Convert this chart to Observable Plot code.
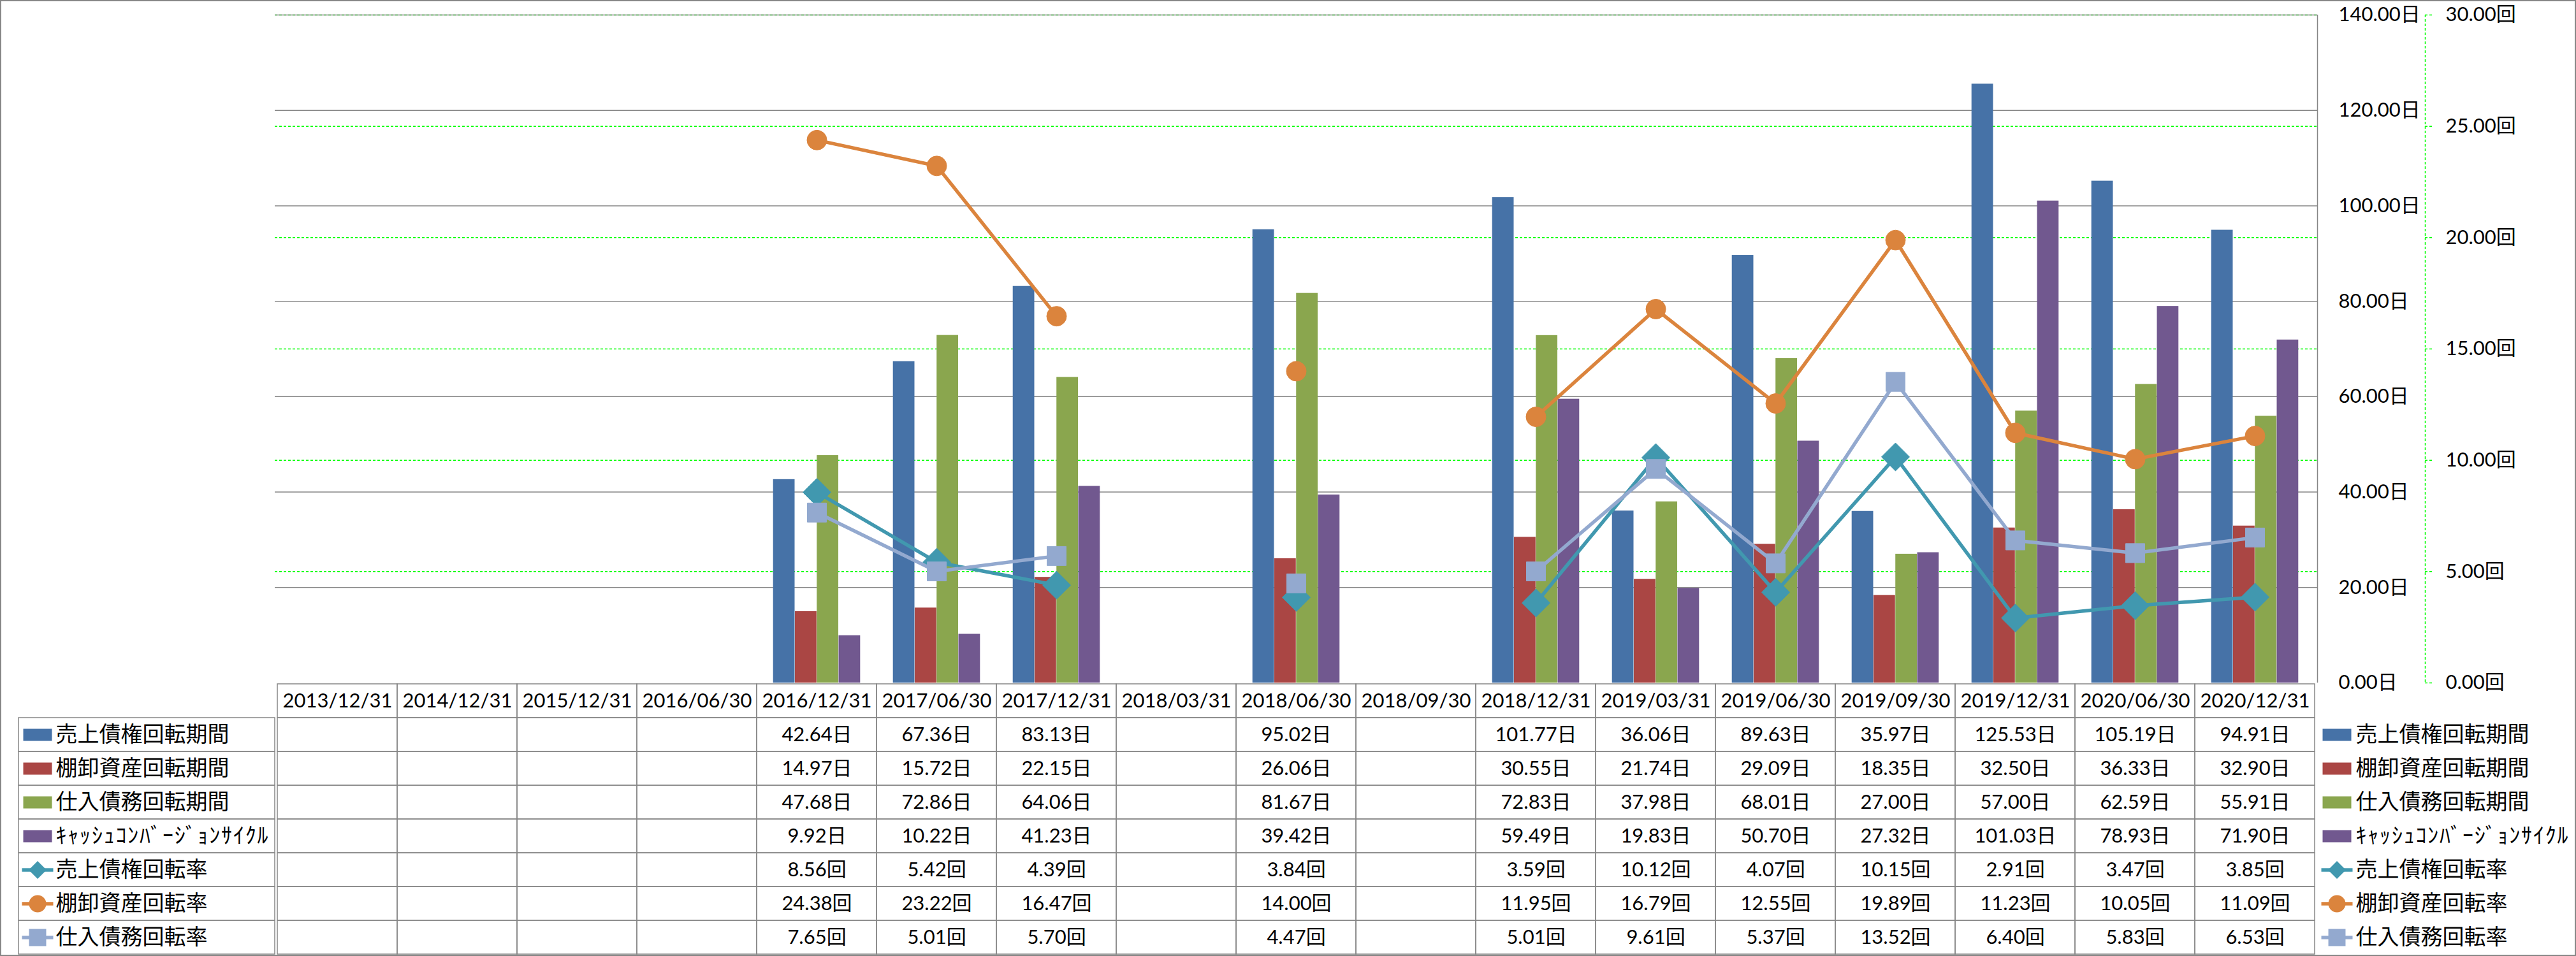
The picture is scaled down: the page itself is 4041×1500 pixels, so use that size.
<!DOCTYPE html>
<html>
<head>
<meta charset="utf-8">
<script src="https://cdn.jsdelivr.net/npm/d3@7"></script>
<script src="https://cdn.jsdelivr.net/npm/@observablehq/plot@0.6"></script>
<style>
html, body { margin: 0; padding: 0; background: #ffffff; color: #000; }
#chart { position: relative; width: 4041px; height: 1500px; overflow: hidden; background: #fff; }
#chart svg { position: absolute; }
#frame { position: absolute; left: 0; top: 0; width: 4041px; height: 1500px; box-sizing: border-box; border: 2px solid #868686; pointer-events: none; }
</style>
</head>
<body>
<div id="chart"></div>
<script>
// ---------------- DATA ----------------
const categories = ["2013/12/31","2014/12/31","2015/12/31","2016/06/30","2016/12/31","2017/06/30","2017/12/31","2018/03/31","2018/06/30","2018/09/30","2018/12/31","2019/03/31","2019/06/30","2019/09/30","2019/12/31","2020/06/30","2020/12/31"];

const barNames = ["売上債権回転期間", "棚卸資産回転期間", "仕入債務回転期間", "ｷｬｯｼｭｺﾝﾊﾞｰｼﾞｮﾝｻｲｸﾙ"];
const lineNames = ["売上債権回転率", "棚卸資産回転率", "仕入債務回転率"];

const receivableDays = [null,null,null,null,42.64,67.36,83.13,null,95.02,null,101.77,36.06,89.63,35.97,125.53,105.19,94.91];
const inventoryDays  = [null,null,null,null,14.97,15.72,22.15,null,26.06,null,30.55,21.74,29.09,18.35,32.50,36.33,32.90];
const payableDays    = [null,null,null,null,47.68,72.86,64.06,null,81.67,null,72.83,37.98,68.01,27.00,57.00,62.59,55.91];
const cccDays        = [null,null,null,null,9.92,10.22,41.23,null,39.42,null,59.49,19.83,50.70,27.32,101.03,78.93,71.90];

const receivableTurnover = [null,null,null,null,8.56,5.42,4.39,null,3.84,null,3.59,10.12,4.07,10.15,2.91,3.47,3.85];
const inventoryTurnover  = [null,null,null,null,24.38,23.22,16.47,null,14.00,null,11.95,16.79,12.55,19.89,11.23,10.05,11.09];
const payableTurnover    = [null,null,null,null,7.65,5.01,5.70,null,4.47,null,5.01,9.61,5.37,13.52,6.40,5.83,6.53];

const dayTicks = [0, 20, 40, 60, 80, 100, 120, 140];
const rateTicks = [0, 5, 10, 15, 20, 25, 30];
const dayUnit = "日";
const rateUnit = "回";

// ---------------- STYLE / LAYOUT ----------------
const W = 4041, H = 1500;
const plotL = 431, plotR = 3635, plotT = 23, plotB = 1071, tableB = 1499;
const greenX = 3804, greenTick = 12;
const gray = "#868686";
const green = "#00FF00";
const FONT = "Lato, 'Noto Sans CJK JP', sans-serif";
const barColors = ["#4672A7", "#AA4644", "#8AA64E", "#71588F"];
const lineColors = ["#4198AF", "#DB843D", "#93A9CF"];
const lineSymbols = ["diamond2", "circle", "square"];
const markerR = [19.8, 15.5, 16.9];
const legendMarkerR = [12.6, 13.5, 15.2];

const barSeries = [receivableDays, inventoryDays, payableDays, cccDays];
const lineSeries = [receivableTurnover, inventoryTurnover, payableTurnover];

const rows = categories.map((date, i) => {
  const r = {date};
  barSeries.forEach((s, k) => r["b" + k] = s[i] ?? NaN);
  lineSeries.forEach((s, k) => r["l" + k] = s[i] ?? NaN);
  return r;
});

const container = document.getElementById("chart");
function place(svg, left, top) {
  svg.style.left = left + "px";
  svg.style.top = top + "px";
  container.appendChild(svg);
  return svg;
}
const baseStyle = {fontFamily: FONT, fontSize: "31px", background: "transparent", overflow: "visible", position: "absolute"};

const xBand = {type: "band", domain: categories, padding: 0, axis: null};

// Layer A: green dashed gridlines (rate scale)
place(Plot.plot({
  width: W, height: plotB, marginTop: plotT, marginBottom: 0, marginLeft: plotL, marginRight: W - plotR,
  style: baseStyle,
  x: xBand,
  y: {domain: [0, 30], axis: null},
  marks: [
    Plot.ruleY(rateTicks.filter(d => d > 0), {stroke: green, strokeWidth: 1.5, strokeDasharray: "4,3"})
  ]
}), 0, 0);

// Layer B: gray gridlines, bars, day axis labels
const step = (plotR - plotL) / categories.length;
const barW = step / 5.5;
const gapHalf = (step - 4 * barW) / 2;
place(Plot.plot({
  width: W, height: plotB, marginTop: plotT, marginBottom: 0, marginLeft: plotL, marginRight: W - plotR,
  style: baseStyle,
  x: xBand,
  y: {domain: [0, 140]},
  marks: [
    Plot.ruleY(dayTicks.filter(d => d > 0), {stroke: gray, strokeWidth: 1.5}),
    ...barSeries.map((s, k) => Plot.barY(rows, {
      x: "date", y: "b" + k, fill: barColors[k],
      insetLeft: gapHalf + k * barW, insetRight: step - gapHalf - (k + 1) * barW
    })),
    Plot.axisY({anchor: "right", ticks: dayTicks, tickSize: 0, tickPadding: 33, label: null,
      tickFormat: d => d.toFixed(2) + dayUnit, fontSize: 31})
  ]
}), 0, 0);

// Day axis line
place(Plot.plot({
  width: W, height: plotB, marginTop: plotT, marginBottom: 0, marginLeft: plotR, marginRight: W - plotR - 1,
  style: baseStyle,
  x: {domain: [0, 1], axis: null},
  marks: [Plot.ruleX([0], {stroke: gray, strokeWidth: 1.5})]
}), 0, 0);

// Rate axis (green dashed line, ticks, labels)
place(Plot.plot({
  width: W, height: plotB, marginTop: plotT, marginBottom: 0, marginLeft: greenX, marginRight: W - greenX - greenTick,
  style: baseStyle,
  x: {domain: [0, 1], axis: null},
  y: {domain: [0, 30]},
  marks: [
    Plot.ruleX([0], {stroke: green, strokeWidth: 1.5, strokeDasharray: "4,3"}),
    Plot.ruleY(rateTicks, {stroke: green, strokeWidth: 1.5, strokeDasharray: "4,3"}),
    Plot.axisY({anchor: "right", ticks: rateTicks, tickSize: 0, tickPadding: 20, label: null,
      tickFormat: d => d.toFixed(2) + rateUnit, fontSize: 31})
  ]
}), 0, 0);

// Layer C: lines and markers (rate scale)
place(Plot.plot({
  width: W, height: plotB, marginTop: plotT, marginBottom: 0, marginLeft: plotL, marginRight: W - plotR,
  style: baseStyle,
  x: xBand,
  y: {domain: [0, 30], axis: null},
  marks: lineSeries.flatMap((s, k) => [
    Plot.line(rows, {x: "date", y: "l" + k, stroke: lineColors[k], strokeWidth: 5.5, strokeLinejoin: "round", strokeLinecap: "round"}),
    Plot.dot(rows, {x: "date", y: "l" + k, symbol: lineSymbols[k], r: markerR[k], fill: lineColors[k], stroke: lineColors[k], strokeWidth: 1})
  ])
}), 0, 0);

// Data table
const rowKeys = ["header", ...barNames, ...lineNames];
const gridCells = d3.cross(categories, rowKeys);
const valueCells = [];
barSeries.forEach((s, k) => s.forEach((v, i) => {
  if (v != null) valueCells.push({date: categories[i], row: barNames[k], text: v.toFixed(2) + dayUnit});
}));
lineSeries.forEach((s, k) => s.forEach((v, i) => {
  if (v != null) valueCells.push({date: categories[i], row: lineNames[k], text: v.toFixed(2) + rateUnit});
}));
const tableH = tableB - plotB;
place(Plot.plot({
  width: W, height: tableH, marginTop: 0, marginBottom: 0, marginLeft: plotL, marginRight: W - plotR,
  style: baseStyle,
  x: xBand,
  y: {type: "band", domain: rowKeys, padding: 0, axis: null},
  marks: [
    Plot.cell(gridCells, {x: d => d[0], y: d => d[1], fill: "none", stroke: gray, strokeWidth: 1.5, inset: 0}),
    Plot.text(categories, {x: d => d, y: () => "header", text: d => d, fontSize: 31}),
    Plot.text(valueCells, {x: "date", y: "row", text: "text", fontSize: 31})
  ]
}), 0, plotB);

// Legend keys
const barKeySym = {draw(c) { c.rect(-22.5, -9.5, 45, 19); }};
const lineKeySym = {draw(c) { c.rect(-24.5, -2.75, 49, 5.5); }};
function legendMarks(keyDx, textDx) {
  return [
    ...barNames.map((n, k) => Plot.dot([n], {y: d => d, frameAnchor: "left", dx: keyDx, symbol: barKeySym, fill: barColors[k]})),
    ...lineNames.flatMap((n, k) => [
      Plot.dot([n], {y: d => d, frameAnchor: "left", dx: keyDx, symbol: lineKeySym, fill: lineColors[k]}),
      Plot.dot([n], {y: d => d, frameAnchor: "left", dx: keyDx, symbol: lineSymbols[k], r: legendMarkerR[k], fill: lineColors[k]})
    ]),
    Plot.text([...barNames, ...lineNames], {y: d => d, text: d => d, frameAnchor: "left", dx: textDx, textAnchor: "start", fontSize: 34})
  ];
}
function widenKatakana(svg) {
  d3.select(svg).selectAll("text")
    .filter(function() { return this.textContent === barNames[3]; })
    .attr("letter-spacing", 1.8);
  return svg;
}

// Left legend column (inside table)
widenKatakana(place(Plot.plot({
  width: plotL, height: tableH, marginTop: 0, marginBottom: 0, marginLeft: 29, marginRight: 0,
  style: baseStyle,
  y: {type: "band", domain: rowKeys, padding: 0, axis: null},
  marks: [
    Plot.cell([...barNames, ...lineNames], {y: d => d, fill: "none", stroke: gray, strokeWidth: 1.5, inset: 0}),
    ...legendMarks(29.5, 58)
  ]
}), 0, plotB));

// Right legend
widenKatakana(place(Plot.plot({
  width: W - plotR, height: tableH, marginTop: 0, marginBottom: 0, marginLeft: 0, marginRight: 0,
  style: baseStyle,
  y: {type: "band", domain: rowKeys, padding: 0, axis: null},
  marks: legendMarks(30.5, 60)
}), plotR, plotB));

const frame = document.createElement("div");
frame.id = "frame";
container.appendChild(frame);
</script>
</body>
</html>
